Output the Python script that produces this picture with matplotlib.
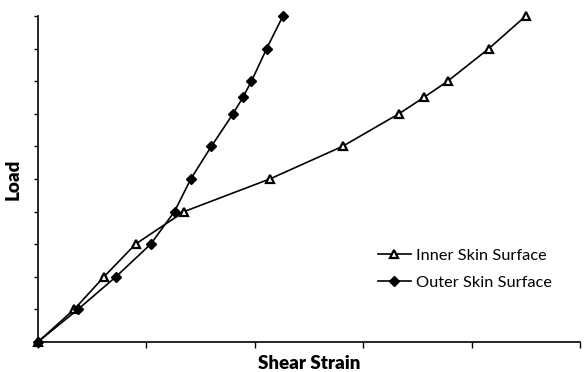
import matplotlib.pyplot as plt

# shear strain readings against load level for both skin gauges
load = [0, 1, 2, 3, 4, 5, 6, 7, 7.5, 8, 9, 10]
inner_strain = [0, 0.335, 0.61, 0.90, 1.35, 2.14, 2.81, 3.33, 3.56, 3.78, 4.16, 4.50]
outer_strain = [0, 0.37, 0.72, 1.04, 1.26, 1.41, 1.60, 1.80, 1.89, 1.97, 2.11, 2.26]

fig = plt.figure(figsize=(5.84, 3.72), dpi=100)
ax = fig.add_axes([0.065, 0.081, 0.928, 0.876])

ax.plot(inner_strain, load, color='black', linewidth=1.2,
        marker='^', markersize=6, markerfacecolor='white', markeredgecolor='black', markeredgewidth=1.6,
        label='Inner Skin Surface', clip_on=False, zorder=3)
ax.plot(outer_strain, load, color='black', linewidth=1.2,
        marker='D', markersize=5, markerfacecolor='black', markeredgecolor='black',
        label='Outer Skin Surface', clip_on=False, zorder=3)

ax.set_xlim(0, 5)
ax.set_ylim(0, 10)
ax.set_xticks(range(0, 6))
ax.set_yticks(range(0, 11))
ax.set_xticklabels([])
ax.set_yticklabels([])
ax.tick_params(axis='x', direction='out', length=4, width=1)
ax.tick_params(axis='y', direction='out', length=3, width=1)
for side in ['top', 'right']:
    ax.spines[side].set_visible(False)
for side in ['left', 'bottom']:
    ax.spines[side].set_linewidth(1.2)

ax.set_xlabel('Shear Strain', fontsize=13.5, fontweight='heavy', family='Lato', labelpad=2)
ax.set_ylabel('Load', fontsize=13.5, fontweight='heavy', family='Lato', labelpad=5)

ax.legend(loc='lower right', bbox_to_anchor=(0.975, 0.115), frameon=False,
          handlelength=2.0, handletextpad=0.3, labelspacing=0.75, prop={'family': 'Lato', 'size': 11.8})

fig.savefig('out.png', dpi=100)
